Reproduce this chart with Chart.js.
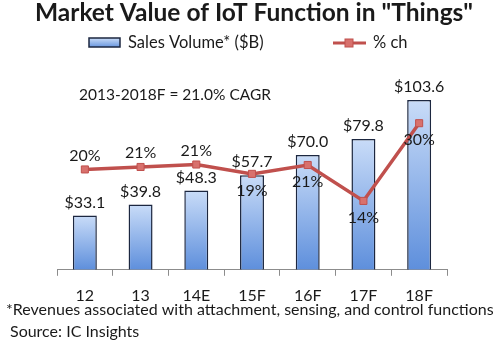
<!DOCTYPE html>
<html>
<head>
<meta charset="utf-8">
<script src="https://cdn.jsdelivr.net/npm/chart.js@4/dist/chart.umd.min.js"></script>
<style>
  html, body { margin: 0; padding: 0; background: #fff; }
</style>
</head>
<body>
<canvas id="chart" width="493" height="348"></canvas>
<script>
const years = ['12', '13', '14E', '15F', '16F', '17F', '18F']
const sales = [33.1, 39.8, 48.3, 57.7, 70.0, 79.8, 103.6]
const salesLabels = ['$33.1', '$39.8', '$48.3', '$57.7', '$70.0', '$79.8', '$103.6']
const pctChange = [20.4, 20.9, 21.4, 19.5, 21.3, 14.0, 29.8]
const pctLabels = ['20%', '21%', '21%', '19%', '21%', '14%', '30%']

const FONT = 'Lato, "DejaVu Sans", sans-serif'
const TEXT = '#1a1a1a'
Chart.defaults.font.family = FONT

function barGradient(ctx) {
  const chart = ctx.chart
  const area = chart.chartArea
  if (!area || ctx.type !== 'data') return '#8fb4ec'
  const top = chart.scales.y.getPixelForValue(ctx.parsed.y)
  const bottom = chart.scales.y.getPixelForValue(0)
  const g = chart.ctx.createLinearGradient(0, top, 0, bottom)
  g.addColorStop(0, '#c9dcf8')
  g.addColorStop(1, '#5e8fdc')
  return g
}

const labelsPlugin = {
  id: 'labels',
  afterDatasetsDraw(chart) {
    const ctx = chart.ctx
    ctx.save()
    ctx.fillStyle = TEXT
    ctx.font = '16px ' + FONT
    ctx.textAlign = 'center'
    ctx.textBaseline = 'middle'
    // dataset 1 = bars, dataset 0 = line
    chart.getDatasetMeta(1).data.forEach((bar, i) => {
      ctx.fillText(salesLabels[i], bar.x, bar.y - 13)
    })
    chart.getDatasetMeta(0).data.forEach((pt, i) => {
      const dy = i >= 3 ? 17 : -14
      ctx.fillText(pctLabels[i], pt.x, pt.y + dy)
    })
    ctx.restore()
  },
  afterDraw(chart) {
    const ctx = chart.ctx
    ctx.save()
    ctx.fillStyle = TEXT
    ctx.textBaseline = 'middle'
    // title
    ctx.font = 'bold 24.5px ' + FONT
    ctx.textAlign = 'center'
    ctx.fillText('Market Value of IoT Function in "Things"', 254, 13)
    // legend
    ctx.textAlign = 'left'
    ctx.font = '16.5px ' + FONT
    const g = ctx.createLinearGradient(0, 38, 0, 48)
    g.addColorStop(0, '#c9dcf8')
    g.addColorStop(1, '#5e8fdc')
    ctx.fillStyle = g
    ctx.fillRect(89, 38, 31, 9)
    ctx.strokeStyle = '#1c2740'
    ctx.lineWidth = 1.5
    ctx.strokeRect(89, 38, 31, 9)
    ctx.fillStyle = TEXT
    ctx.fillText('Sales Volume* ($B)', 128, 43)
    ctx.strokeStyle = '#c0504d'
    ctx.lineWidth = 3
    ctx.beginPath()
    ctx.moveTo(333, 43)
    ctx.lineTo(366, 43)
    ctx.stroke()
    ctx.fillStyle = '#d8716d'
    ctx.fillRect(345, 39, 8, 8)
    ctx.strokeStyle = '#c0504d'
    ctx.lineWidth = 1
    ctx.strokeRect(345, 39, 8, 8)
    ctx.fillStyle = TEXT
    ctx.fillText('% ch', 373, 43)
    // annotation
    ctx.font = '15.5px ' + FONT
    ctx.fillText('2013-2018F = 21.0% CAGR', 79, 95)
    // footnotes
    ctx.font = '16px ' + FONT
    ctx.fillText('*Revenues associated with attachment, sensing, and control functions', 6, 310)
    ctx.fillText('Source: IC Insights', 10, 332)
    ctx.restore()
  }
}

new Chart(document.getElementById('chart'), {
  data: {
    labels: years,
    datasets: [
      {
        type: 'line',
        label: '% ch',
        data: pctChange,
        yAxisID: 'y1',
        order: 0,
        borderColor: '#c0504d',
        borderWidth: 3.5,
        pointStyle: 'rect',
        pointRadius: 5,
        pointBackgroundColor: '#d8716d',
        pointBorderColor: '#c0504d',
        pointBorderWidth: 1,
        tension: 0
      },
      {
        type: 'bar',
        label: 'Sales Volume* ($B)',
        data: sales,
        yAxisID: 'y',
        order: 1,
        backgroundColor: barGradient,
        borderColor: '#1c2740',
        borderWidth: 1.5,
        categoryPercentage: 1,
        barPercentage: 0.43
      }
    ]
  },
  options: {
    responsive: false,
    animation: false,
    layout: { padding: { left: 57, right: 46, top: 73, bottom: 33 } },
    plugins: {
      legend: { display: false },
      title: { display: false },
      tooltip: { enabled: false }
    },
    scales: {
      x: {
        offset: true,
        grid: { drawOnChartArea: false, offset: true, tickLength: 6, color: '#8c8c8c' },
        border: { color: '#8c8c8c' },
        ticks: { color: TEXT, font: { size: 16 }, padding: 10 }
      },
      y: { display: false, min: 0, max: 120 },
      y1: { display: false, min: 0, max: 40 }
    }
  },
  plugins: [labelsPlugin]
})
</script>
</body>
</html>
